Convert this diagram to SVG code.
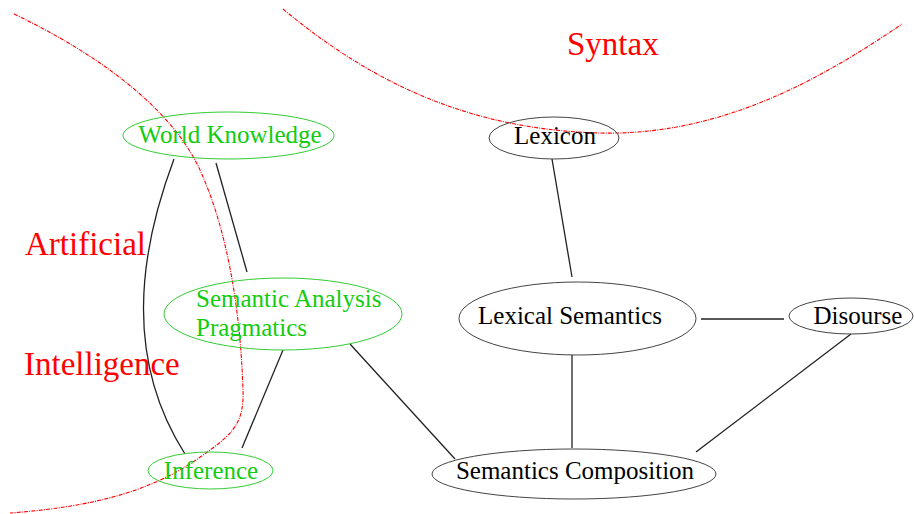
<svg xmlns="http://www.w3.org/2000/svg" width="914" height="514" viewBox="0 0 914 514">
<style>
  .bg { fill: #ffffff; }
  .node { fill: none; stroke: #444; stroke-width: 1; }
  .gnode { fill: none; stroke: #33cc33; stroke-width: 1; }
  .lbl { font-family: "Liberation Serif", "Times New Roman", serif; font-size: 25px; fill: #000; }
  .glbl { font-family: "Liberation Serif", "Times New Roman", serif; font-size: 25px; fill: #11cc11; }
  .big { font-family: "Liberation Serif", "Times New Roman", serif; font-size: 33px; fill: #ff0000; }
  .edge { fill: none; stroke: #222; stroke-width: 1.3; }
  .bound { fill: none; stroke: #ff0000; stroke-width: 1.1; stroke-dasharray: 4 1.2 1 1.2; }
</style>
<rect class="bg" x="0" y="0" width="914" height="514"/>

<g id="boundaries">
  <path class="bound" d="M14,14 C110,60 175,115 200,170 C225,225 240,300 243,390 C244,420 235,432 210,450 C170,480 120,505 10,513"/>
  <path class="bound" d="M283,9 C380,90 480,130 600,133 C720,136 820,80 902,24"/>
</g>

<g id="region-labels">
  <text class="big" x="25" y="255">Artificial</text>
  <text class="big" x="24" y="375">Intelligence</text>
  <text class="big" x="567" y="55">Syntax</text>
</g>

<g id="connectors">
  <path class="edge" d="M174,159 C138,255 125,360 185,454"/>
  <line class="edge" x1="216" y1="163" x2="247" y2="272"/>
  <line class="edge" x1="283" y1="350" x2="242" y2="448"/>
  <line class="edge" x1="350" y1="344" x2="455" y2="459"/>
  <line class="edge" x1="552" y1="159" x2="572" y2="277"/>
  <line class="edge" x1="701" y1="319" x2="784" y2="319"/>
  <line class="edge" x1="572" y1="355" x2="572" y2="448"/>
  <line class="edge" x1="851" y1="334" x2="696" y2="452"/>
</g>

<g id="node-world-knowledge">
  <ellipse class="gnode" cx="228.5" cy="135.5" rx="105.5" ry="23.5"/>
  <text class="glbl" x="230" y="143" text-anchor="middle">World Knowledge</text>
</g>

<g id="node-semantic-analysis">
  <ellipse class="gnode" cx="283" cy="314" rx="119" ry="36"/>
  <text class="glbl" x="196" y="307">Semantic Analysis</text>
  <text class="glbl" x="196" y="336">Pragmatics</text>
</g>

<g id="node-inference">
  <ellipse class="gnode" cx="210.5" cy="470.5" rx="62.5" ry="18.5"/>
  <text class="glbl" x="211" y="479" text-anchor="middle">Inference</text>
</g>

<g id="node-lexicon">
  <ellipse class="node" cx="554" cy="138" rx="65" ry="21"/>
  <text class="lbl" x="555" y="144" text-anchor="middle">Lexicon</text>
</g>

<g id="node-lexical-semantics">
  <ellipse class="node" cx="577.5" cy="318.5" rx="118.5" ry="36.5"/>
  <text class="lbl" x="570" y="324" text-anchor="middle">Lexical Semantics</text>
</g>

<g id="node-disourse">
  <ellipse class="node" cx="851" cy="316" rx="62" ry="18"/>
  <text class="lbl" x="858" y="324" text-anchor="middle">Disourse</text>
</g>

<g id="node-semantics-composition">
  <ellipse class="node" cx="574" cy="474" rx="142" ry="25"/>
  <text class="lbl" x="575" y="479" text-anchor="middle">Semantics Composition</text>
</g>
</svg>
